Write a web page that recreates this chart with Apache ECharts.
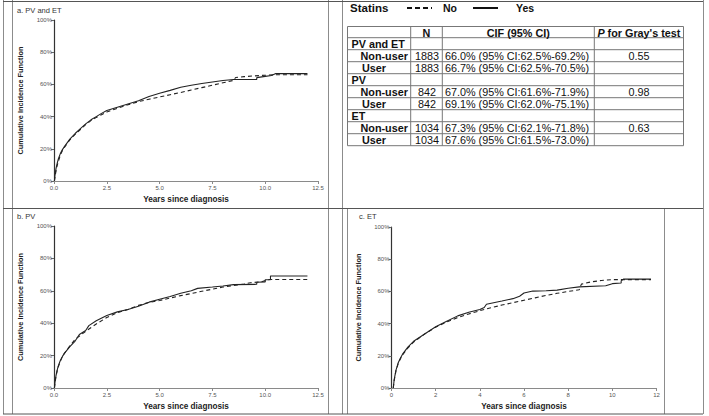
<!DOCTYPE html>
<html>
<head>
<meta charset="utf-8">
<script src="https://cdn.jsdelivr.net/npm/echarts@6/dist/echarts.min.js"></script>
<style>
html,body{margin:0;padding:0;background:#fff;}
#c{width:709px;height:416px;}
</style>
</head>
<body>
<div id="c"></div>
<script>
// ---------- DATA ----------
const panelTitles = ['a. PV and ET', 'b. PV', 'c. ET'];
const yTitle = 'Cumulative Incidence Function';
const xTitle = 'Years since diagnosis';
const legendTitle = 'Statins';
const legendNames = ['No', 'Yes'];

// cumulative incidence (%) vs years since diagnosis
const pvetNo = [[0.02,0],[0.05,3],[0.1,6.5],[0.15,9.5],[0.2,12],[0.3,16],[0.4,19],[0.5,21],[0.75,25.5],[1.0,29],[1.25,32],[1.5,35],[1.75,37.5],[2.0,39.5],[2.25,41.2],[2.5,42.8],[3.0,45.2],[3.5,47.3],[4.0,49.3],[4.5,50.8],[5.0,52.2],[5.5,53.6],[6.0,55],[6.5,56.5],[7.0,58],[7.5,59.5],[8.0,61],[8.5,62.5],[8.6,64.3],[9.0,64.8],[9.5,65.3],[10.0,65.7],[10.5,66],[12.0,66]];
const pvetYes = [[0.02,0],[0.05,4],[0.1,8],[0.15,11],[0.2,13.5],[0.3,17],[0.4,19.5],[0.5,21.5],[0.75,26],[1.0,29.5],[1.25,32.5],[1.5,35.5],[1.75,38],[2.0,40],[2.25,42],[2.5,43.8],[3.0,45.8],[3.5,47.8],[4.0,49.8],[4.5,52.5],[5.0,54.5],[5.5,56.3],[6.0,58.2],[6.5,59.5],[7.0,60.6],[7.5,61.5],[8.0,62.4],[8.5,63],[9.6,63],[9.6,64.2],[10.0,65],[10.3,65.5],[10.5,66.7],[12.0,66.7]];
const pvNo = [[0.02,0],[0.05,3.5],[0.1,7.5],[0.15,10.5],[0.2,13],[0.3,16.5],[0.4,19.5],[0.5,21.5],[0.75,26],[1.0,30],[1.25,32.5],[1.5,35],[2.0,39.5],[2.5,43.5],[3.0,46.5],[3.5,48.5],[4.0,51],[4.5,52.8],[5.0,54],[5.5,55.5],[6.0,57],[6.5,58.3],[7.0,59.7],[7.5,61],[8.0,62.3],[8.5,63.3],[9.0,64.2],[9.3,65],[9.8,65.5],[10.2,67],[12.0,67]];
const pvYes = [[0.02,0],[0.05,4],[0.1,8],[0.15,11],[0.2,13.5],[0.3,17],[0.4,19.5],[0.5,21.5],[0.75,25.5],[1.0,29],[1.2,33],[1.5,35.5],[1.65,38.5],[2.0,41.5],[2.5,44.8],[3.0,47],[3.5,48.5],[4.0,50.5],[4.5,53],[5.0,54.8],[5.5,56.5],[6.0,58.5],[6.5,60],[6.8,61.5],[7.5,62.3],[8.0,63],[8.5,63.8],[9.6,64],[9.6,65.3],[10.0,65.5],[10.0,66.8],[10.25,66.8],[10.25,69.1],[12.0,69.1]];
const etNo = [[0.08,0],[0.12,4.5],[0.2,10.5],[0.3,15],[0.4,18],[0.5,20.5],[0.75,25],[1.0,28.5],[1.5,33.5],[2.0,37.8],[2.5,41],[3.0,43.8],[3.5,46],[4.0,48],[4.5,49.8],[5.0,51.5],[5.5,53],[6.0,54.5],[6.5,56],[7.0,57.5],[7.5,58.8],[8.0,60],[8.5,61],[8.6,64.5],[9.0,65.8],[9.5,66.8],[10.0,67.3],[11.75,67.3]];
const etYes = [[0.08,0],[0.12,5],[0.2,11],[0.3,15.5],[0.4,18.5],[0.5,21],[0.75,25.5],[1.0,29],[1.5,33.5],[2.0,38],[2.5,41.5],[3.0,44.8],[3.5,47],[4.0,48.8],[4.2,50],[4.3,52],[5.0,54],[5.5,55.5],[5.8,57],[6.0,59],[6.4,60.2],[7.0,60.4],[7.5,60.8],[8.0,62],[8.5,62.8],[9.7,63.5],[10.0,64.8],[10.4,65.2],[10.4,66.5],[10.5,67.6],[11.75,67.6]];

// axis settings (values)
const xMaxA = 12.5, xIntA = 2.5;
const xMaxC = 12, xIntC = 2;

// summary table
const tableHeader = ['', 'N', 'CIF (95% CI)', "P for Gray's test"];
const groups = ['PV and ET', 'PV', 'ET'];
const rowLabels = ['Non-user', 'User'];
const groupN = ['1883', '842', '1034'];
const cifNonUser = ['66.0% (95% CI:62.5%-69.2%)', '67.0% (95% CI:61.6%-71.9%)', '67.3% (95% CI:62.1%-71.8%)'];
const cifUser = ['66.7% (95% CI:62.5%-70.5%)', '69.1% (95% CI:62.0%-75.1%)', '67.6% (95% CI:61.5%-73.0%)'];
const grayP = ['0.55', '0.98', '0.63'];

// ---------- CHART ----------
const chart = echarts.init(document.getElementById('c'), null, {renderer: 'svg'});
const FONT = 'Liberation Sans, Arial, sans-serif';
const ink = '#222';

const grids = [
  {left: 54, top: 20, width: 264, height: 161},
  {left: 54, top: 226, width: 264, height: 162},
  {left: 391.5, top: 227, width: 265, height: 161}
];

function xAxis(i, max, interval) {
  return {
    type: 'value', gridIndex: i, min: 0, max: max, interval: interval,
    name: xTitle, nameLocation: 'middle', nameGap: 14,
    nameTextStyle: {fontFamily: FONT, fontWeight: 'bold', fontSize: 8.2, color: ink},
    axisLine: {lineStyle: {color: '#8a8a8a', width: 1}},
    axisTick: {length: 3, lineStyle: {color: '#8a8a8a'}},
    axisLabel: {fontFamily: FONT, fontSize: 6, color: '#555', margin: 4,
      formatter: v => (interval === 2.5 ? v.toFixed(1) : String(v))},
    splitLine: {show: false}
  };
}
function yAxis(i) {
  return {
    type: 'value', gridIndex: i, min: 0, max: 100, interval: 20,
    name: yTitle, nameLocation: 'middle', nameGap: 30,
    nameTextStyle: {fontFamily: FONT, fontWeight: 'bold', fontSize: 7.3, color: ink},
    axisLine: {show: true, lineStyle: {color: '#333', width: 1.2}},
    axisTick: {show: true, length: 3, lineStyle: {color: '#666'}},
    axisLabel: {fontFamily: FONT, fontSize: 6, color: '#555', margin: 2, formatter: '{value}%'},
    splitLine: {show: false}
  };
}
function line(name, data, i, dashed) {
  return {
    name: name, type: 'line', xAxisIndex: i, yAxisIndex: i, data: data,
    symbol: 'none', showSymbol: false, smooth: false, silent: true,
    lineStyle: {color: '#222', width: 1.1, type: dashed ? [4, 3] : 'solid'},
    emphasis: {disabled: true}
  };
}

// table geometry
const colX = [347.5, 410.7, 442.3, 594.3, 683.5];
const rowY = [26.5, 37.7, 49.7, 61.7, 73.7, 85.7, 97.7, 109.7, 121.7, 133.7, 145.7];
const TF = 10.8;

const graphics = [];
// table lines
rowY.forEach(y => graphics.push({type: 'line', shape: {x1: colX[0], y1: y, x2: colX[4], y2: y}, style: {stroke: '#777', lineWidth: 1}}));
colX.forEach(x => graphics.push({type: 'line', shape: {x1: x, y1: rowY[0], x2: x, y2: rowY[rowY.length - 1]}, style: {stroke: '#777', lineWidth: 1}}));
function cellText(txt, x, row, align, bold) {
  const cy = (rowY[row] + rowY[row + 1]) / 2;
  graphics.push({type: 'text', x: x, y: cy + 0.5, style: {
    text: txt, fill: '#111', font: (bold ? 'bold ' : '') + TF + 'px ' + FONT,
    textAlign: align, textVerticalAlign: 'middle'
  }});
}
// header
cellText(tableHeader[1], (colX[1] + colX[2]) / 2, 0, 'center', true);
cellText(tableHeader[2], (colX[2] + colX[3]) / 2, 0, 'center', true);
graphics.push({type: 'text', x: (colX[3] + colX[4]) / 2, y: (rowY[0] + rowY[1]) / 2 + 0.5, style: {
  text: '{i|' + tableHeader[3].charAt(0) + '}{b|' + tableHeader[3].slice(1) + '}',
  textAlign: 'center', textVerticalAlign: 'middle',
  rich: {i: {font: 'italic bold ' + TF + 'px ' + FONT, fill: '#111'}, b: {font: 'bold ' + TF + 'px ' + FONT, fill: '#111'}}
}});
groups.forEach((g, k) => {
  const r0 = 1 + k * 3;
  cellText(g, 351.5, r0, 'left', true);
  cellText(rowLabels[0], 360.5, r0 + 1, 'left', true);
  cellText(rowLabels[1], 362, r0 + 2, 'left', true);
  cellText(groupN[k], (colX[1] + colX[2]) / 2 + 0.5, r0 + 1, 'center', false);
  cellText(groupN[k], (colX[1] + colX[2]) / 2 + 0.5, r0 + 2, 'center', false);
  cellText(cifNonUser[k], 445, r0 + 1, 'left', false);
  cellText(cifUser[k], 445, r0 + 2, 'left', false);
  cellText(grayP[k], (colX[3] + colX[4]) / 2, r0 + 1, 'center', false);
});
// legend (drawn as graphics)
graphics.push({type: 'text', x: 350, y: 8, style: {text: legendTitle, font: 'bold 11.5px ' + FONT, fill: '#111', textVerticalAlign: 'middle'}});
graphics.push({type: 'line', shape: {x1: 407, y1: 8, x2: 432, y2: 8}, style: {stroke: '#111', lineWidth: 2, lineDash: [5, 3]}});
graphics.push({type: 'text', x: 443, y: 8, style: {text: legendNames[0], font: 'bold 10.5px ' + FONT, fill: '#111', textVerticalAlign: 'middle'}});
graphics.push({type: 'line', shape: {x1: 473, y1: 8, x2: 498, y2: 8}, style: {stroke: '#111', lineWidth: 2}});
graphics.push({type: 'text', x: 516, y: 8, style: {text: legendNames[1], font: 'bold 10.5px ' + FONT, fill: '#111', textVerticalAlign: 'middle'}});
// panel titles
[[17, 10], [17, 216.5], [359, 216.5]].forEach((p, i) => graphics.push({
  type: 'text', x: p[0], y: p[1], style: {text: panelTitles[i], font: '7.5px ' + FONT, fill: '#333', textVerticalAlign: 'middle'}
}));
// figure frame lines
const vlines = [[3, 0, 414], [12, 0, 414], [328, 0, 414], [342, 0, 414], [347, 208, 414], [664, 208, 414], [703, 0, 414]];
const hlines = [[1, 3, 703], [208, 3, 703], [413.5, 3, 703]];
vlines.forEach(v => graphics.push({type: 'line', shape: {x1: v[0] + 0.5, y1: v[1], x2: v[0] + 0.5, y2: v[2]}, style: {stroke: '#8c8c8c', lineWidth: 1}}));
hlines.forEach(h => graphics.push({type: 'line', shape: {x1: h[1], y1: h[0] + 0.5, x2: h[2], y2: h[0] + 0.5}, style: {stroke: '#555', lineWidth: 1}}));

chart.setOption({
  animation: false,
  backgroundColor: '#fff',
  grid: grids,
  xAxis: [xAxis(0, xMaxA, xIntA), xAxis(1, xMaxA, xIntA), xAxis(2, xMaxC, xIntC)],
  yAxis: [yAxis(0), yAxis(1), yAxis(2)],
  series: [
    line(legendNames[0], pvetNo, 0, true), line(legendNames[1], pvetYes, 0, false),
    line(legendNames[0], pvNo, 1, true), line(legendNames[1], pvYes, 1, false),
    line(legendNames[0], etNo, 2, true), line(legendNames[1], etYes, 2, false)
  ],
  graphic: graphics
});
</script>
</body>
</html>
